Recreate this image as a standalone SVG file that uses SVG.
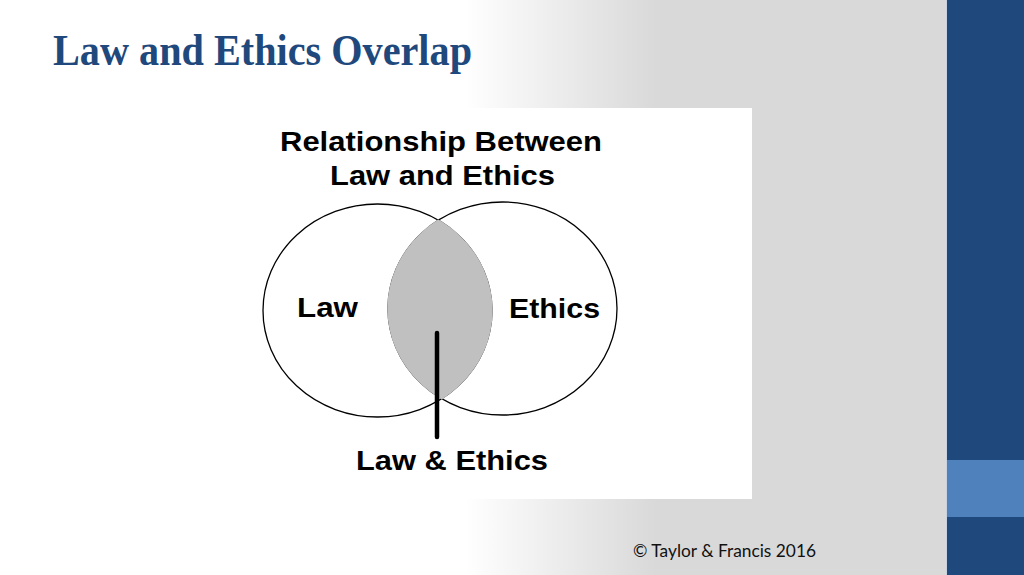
<svg xmlns="http://www.w3.org/2000/svg" width="1024" height="575" viewBox="0 0 1024 575">
<style>
.dg{font-family:"Liberation Sans",Arial,sans-serif;font-weight:bold;fill:#000;}
.ttl{font-family:"Liberation Serif","Times New Roman",serif;font-weight:bold;fill:#1f497d;}
.cp{font-family:Lato,"Liberation Sans",sans-serif;fill:#111;}
.ring{fill:none;stroke:#000;stroke-width:1.3;}
</style>
<defs>
<linearGradient id="bg" gradientUnits="userSpaceOnUse" x1="465" y1="0" x2="655" y2="0">
<stop offset="0" stop-color="#ffffff"/>
<stop offset="1" stop-color="#d9d9d9"/>
</linearGradient>
<clipPath id="lc"><ellipse cx="377.5" cy="310.5" rx="115.2" ry="107.2"/></clipPath>
</defs>
<g id="background">
<rect x="0" y="0" width="1024" height="575" fill="url(#bg)"/>
<rect x="946" y="0" width="78" height="575" fill="#1f497d"/>
<rect x="946" y="460" width="78" height="57" fill="#4f81bd"/>
<line x1="946.5" y1="0" x2="946.5" y2="575" stroke="#c8d2e0" stroke-width="1"/>
</g>
<g id="title"><text class="ttl" x="53" y="65" font-size="45" textLength="419" lengthAdjust="spacingAndGlyphs">Law and Ethics Overlap</text></g>
<g id="panel">
<rect x="257" y="108" width="495" height="391" fill="#ffffff"/>
<text class="dg" x="280" y="151" font-size="27" textLength="322" lengthAdjust="spacingAndGlyphs">Relationship Between</text>
<text class="dg" x="330" y="185" font-size="27" textLength="225" lengthAdjust="spacingAndGlyphs">Law and Ethics</text>
</g>
<g id="law">
<ellipse class="ring" cx="377.5" cy="310.5" rx="114.5" ry="106.5"/>
<text class="dg" x="297" y="317" font-size="27" textLength="61" lengthAdjust="spacingAndGlyphs">Law</text>
</g>
<g id="ethics">
<ellipse class="ring" cx="502.5" cy="308.5" rx="114.5" ry="106.5"/>
<text class="dg" x="509" y="318" font-size="27" textLength="91" lengthAdjust="spacingAndGlyphs">Ethics</text>
</g>
<g id="overlap">
<ellipse cx="502.5" cy="308.5" rx="115.2" ry="107.2" fill="#c0c0c0" clip-path="url(#lc)"/>
</g>
<g id="connectors">
<line x1="437" y1="333" x2="437" y2="437" stroke="#000" stroke-width="4.5" stroke-linecap="round"/>
</g>
<g id="law-ethics-label">
<text class="dg" x="356" y="470" font-size="27" textLength="192" lengthAdjust="spacingAndGlyphs">Law &amp; Ethics</text>
</g>
<g id="footer"><text class="cp" x="633" y="557" font-size="17" textLength="183" lengthAdjust="spacingAndGlyphs">© Taylor &amp; Francis 2016</text></g>
</svg>
